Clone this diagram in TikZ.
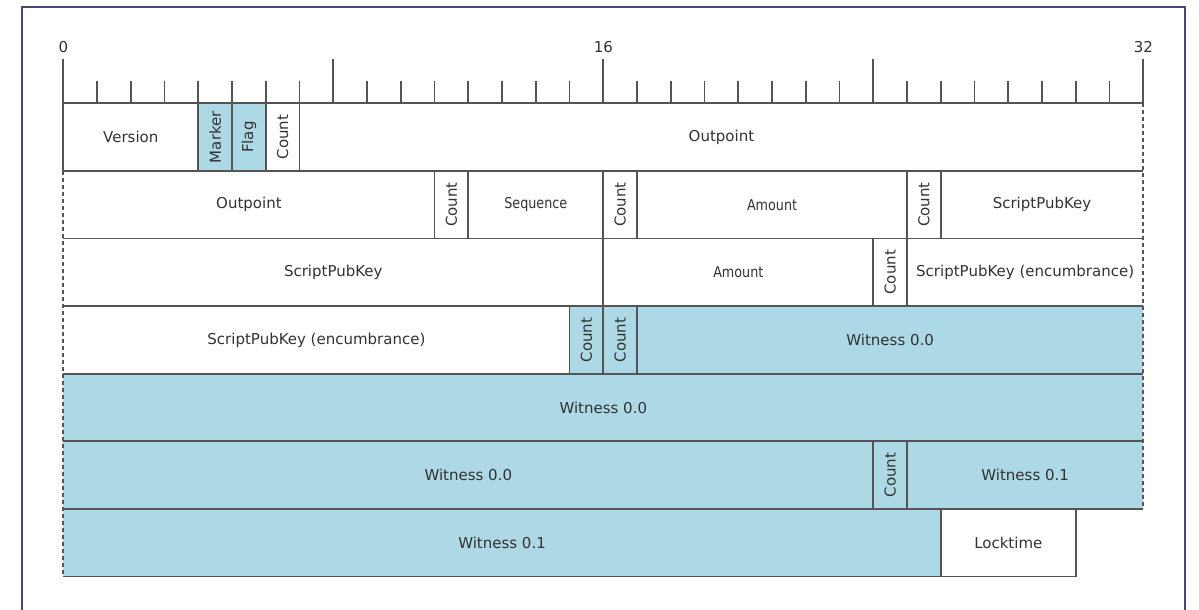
\documentclass[tikz,border=0pt]{standalone}
\usepackage{fontspec}
\setmainfont{DejaVu Sans}
\newfontfamily\narrowfont[FakeStretch=0.85]{DejaVu Sans}
\definecolor{linegray}{RGB}{85,85,85}
\definecolor{textgray}{RGB}{50,50,50}
\definecolor{witblue}{RGB}{173,216,230}
\definecolor{framecol}{RGB}{72,72,120}
\begin{document}
\begin{tikzpicture}[
    x=16.875pt, y=16.9pt,
    rule/.style={draw=linegray,line width=0.9pt},
    cont/.style={draw=linegray,line width=0.9pt,dash pattern=on 2pt off 1.5pt},
    lbl/.style={text=textgray,font=\fontsize{7.5}{9}\selectfont,inner sep=0pt},
    vlbl/.style={lbl,rotate=90},
    nlbl/.style={lbl,font=\fontsize{7.5}{9}\selectfont\narrowfont}
]
\useasboundingbox (-31.65pt,-253.35pt) rectangle (567.85pt,51.65pt);
\draw[framecol,line width=0.6pt] (-20.65pt,-253.35pt) -- (-20.65pt,48.15pt)
    -- (560.85pt,48.15pt) -- (560.85pt,-253.35pt);

% segwit parts
\fill[witblue] (4,0) rectangle (6,-2);
\fill[witblue] (15,-6) rectangle (32,-8);
\fill[witblue] (0,-8) rectangle (32,-12);
\fill[witblue] (0,-12) rectangle (26,-14);

% bit ruler
\foreach \b in {0,...,32} \draw[rule] (\b,0) -- (\b,0.65);
\foreach \b in {0,8,16,24,32} \draw[rule] (\b,0) -- (\b,1.3);
\foreach \b in {0,16,32} \node[lbl,anchor=base] (bit\b) at (\b,1.515) {\b};

% rows and field borders
\foreach \r in {0,...,6} \draw[rule] (0,-2*\r) -- (32,-2*\r);
\draw[rule] (0,-14) -- (30,-14);
\foreach \b/\r in {4/0,5/0,6/0,7/0,11/1,12/1,16/1,17/1,25/1,26/1,16/2,24/2,25/2,
    15/3,16/3,17/3,24/5,25/5,26/6,30/6}
    \draw[rule] (\b,-2*\r) -- (\b,-2*\r-2);
\draw[rule] (0,0) -- (0,-2);
\draw[cont] (0,-2) -- (0,-14);
\draw[cont] (32,0) -- (32,-12);

% row 1
\node[lbl] (ver) at (2,-1) {Version};
\node[vlbl] (mark) at (4.5,-1) {Marker};
\node[vlbl] (flag) at (5.5,-1) {Flag};
\node[vlbl] (cnt1) at (6.5,-1) {Count};
\node[lbl] (outp1) at (19.5,-1) {Outpoint};
% row 2
\node[lbl] (outp2) at (5.5,-3) {Outpoint};
\node[vlbl] (cnt2) at (11.5,-3) {Count};
\node[nlbl] (seq) at (14,-3) {Sequence};
\node[vlbl] (cnt3) at (16.5,-3) {Count};
\node[nlbl] (amt1) at (21,-3) {Amount};
\node[vlbl] (cnt4) at (25.5,-3) {Count};
\node[lbl] (spk1) at (29,-3) {ScriptPubKey};
% row 3
\node[lbl] (spk2) at (8,-5) {ScriptPubKey};
\node[nlbl] (amt2) at (20,-5) {Amount};
\node[vlbl] (cnt5) at (24.5,-5) {Count};
\node[lbl] (spk3) at (28.5,-5) {ScriptPubKey (encumbrance)};
% row 4
\node[lbl] (spk4) at (7.5,-7) {ScriptPubKey (encumbrance)};
\node[vlbl] (cnt6) at (15.5,-7) {Count};
\node[vlbl] (cnt7) at (16.5,-7) {Count};
\node[lbl] (wit1) at (24.5,-7) {Witness 0.0};
% row 5
\node[lbl] (wit2) at (16,-9) {Witness 0.0};
% row 6
\node[lbl] (wit3) at (12,-11) {Witness 0.0};
\node[vlbl] (cnt8) at (24.5,-11) {Count};
\node[lbl] (wit4) at (28.5,-11) {Witness 0.1};
% row 7
\node[lbl] (wit5) at (13,-13) {Witness 0.1};
\node[lbl] (lock) at (28,-13) {Locktime};
\end{tikzpicture}
\end{document}
